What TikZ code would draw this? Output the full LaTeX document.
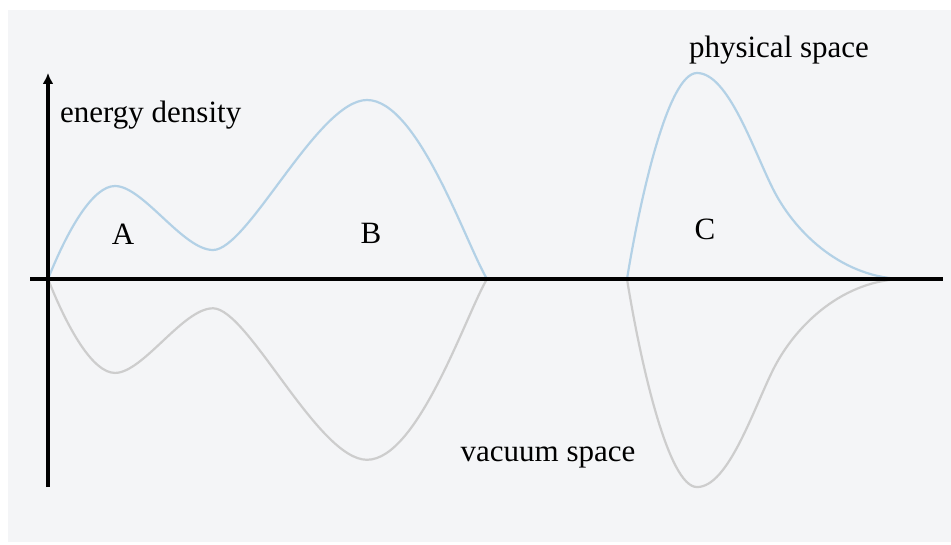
\documentclass[tikz,border=0pt]{standalone}
\usepackage{fontspec}
\setmainfont{Liberation Serif}
\usepackage{xcolor}
\usetikzlibrary{arrows.meta}
\definecolor{panelgray}{HTML}{F4F5F7}
\definecolor{physblue}{HTML}{B3D1E6}
\definecolor{vacgray}{HTML}{CDCDCD}
\def\ABcurve{(0,0) .. controls (20,50) and (45,93) .. (67,93)
  .. controls (95,93) and (135,29) .. (165,29)
  .. controls (200,29) and (270,179) .. (319,179)
  .. controls (370,179) and (418,35) .. (439,0)}
\def\Ccurve{(579,0) .. controls (592,80) and (620,206) .. (649,206)
  .. controls (680,206) and (705,130) .. (725,90)
  .. controls (745,50) and (790,3) .. (852,0)}

\begin{document}
\begin{tikzpicture}[
    x=1pt, y=1pt,
    axisline/.style={black, line width=3.4pt},
    phys/.style={physblue, line width=2.2pt},
    vac/.style={vacgray, line width=2.2pt},
    lbl/.style={black, font=\fontsize{31}{36}\selectfont, inner sep=0pt}
]

% Page and grey panel.  One unit is one pixel of the reference.
\useasboundingbox (-48,-265) rectangle (903,279);
\fill[panelgray] (-40,-263) rectangle (903,269);

% ---------- axes ----------
\coordinate (origin) at (0,0);
\coordinate (ytop) at (0,206);
\coordinate (ybot) at (0,-208);
\coordinate (xleft) at (-18,0);
\coordinate (xright) at (895,0);

% ---------- vacuum space (mirror image) ----------
\begin{scope}[yscale=-1.01]
  \draw[vac] \ABcurve;
  \draw[vac] \Ccurve;
\end{scope}

% ---------- physical space ----------
\draw[phys] \ABcurve;
\draw[phys] \Ccurve;

\draw[axisline] (xleft) -- (xright);
\draw[axisline, -{Latex[length=11pt, width=11pt]}] (ybot) -- (ytop);

% ---------- labels ----------
\node[lbl, anchor=west] (energy) at (12,164) {energy density};
\node[lbl] (physical) at (731,229) {physical space};
\node[lbl] (vacuum) at (500,-178) {vacuum space};
\node[lbl] (labA) at (75,45) {A};
\node[lbl] (labB) at (323,46) {B};
\node[lbl] (labC) at (657,50) {C};

\end{tikzpicture}
\end{document}
